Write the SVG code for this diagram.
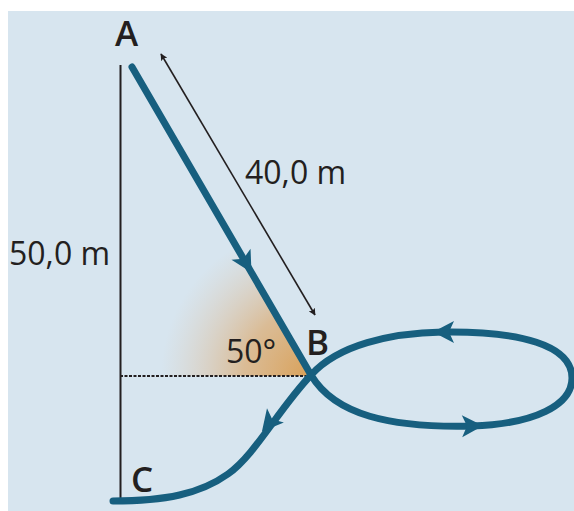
<svg xmlns="http://www.w3.org/2000/svg" xmlns:xlink="http://www.w3.org/1999/xlink" width="574" height="511" viewBox="0 0 574 511">
<style>
.lbl{font-family:"Open Sans","Liberation Sans",sans-serif;fill:#231f20;}
.pt{font-size:35px;font-weight:600;}
.dim{font-size:32px;}
.path{fill:none;stroke:#175f7f;stroke-width:7;stroke-linecap:round;}
.ah{fill:#175f7f;}
</style>
<defs>
<radialGradient id="wedge" gradientUnits="userSpaceOnUse" cx="311" cy="376" r="150">
<stop offset="0" stop-color="#d9a057" stop-opacity="1"/>
<stop offset="0.45" stop-color="#dbae78" stop-opacity="0.75"/>
<stop offset="1" stop-color="#dcc4ac" stop-opacity="0"/>
</radialGradient>
<path id="head" d="M11,0 L-10,-11 L-5,0 L-10,11 Z"/>
<marker id="bk" viewBox="0 0 10 10" refX="9" refY="5" markerWidth="7" markerHeight="7" orient="auto-start-reverse" markerUnits="userSpaceOnUse">
<path d="M0,0 L10,5 L0,10 L2,5 Z" fill="#231f20"/>
</marker>
</defs>
<rect x="8" y="11" width="566" height="500" fill="#d7e5ef"/>
<polygon points="311,376 160,376 160,225 224,225" fill="url(#wedge)"/>
<g id="connectors">
<line x1="120.5" y1="65" x2="120.5" y2="500" stroke="#231f20" stroke-width="2"/>
<line x1="120" y1="376" x2="306" y2="376" stroke="#231f20" stroke-width="2" stroke-dasharray="3,1.5"/>
<line x1="161" y1="54" x2="315" y2="315" stroke="#231f20" stroke-width="1.6" marker-start="url(#bk)" marker-end="url(#bk)"/>
<path class="path" d="M132,67 L311,375 C335,415 390,428 472,426 C535,424 572,405 572,378 C572,345 520,331 443,332 C390,333 338,345 311,375 C278,410 255,455 228,474 C200,494 165,501 113,501"/>
<use href="#head" class="ah" transform="translate(246,263) rotate(60)"/>
<use href="#head" class="ah" transform="translate(444,332) rotate(180)"/>
<use href="#head" class="ah" transform="translate(472,426) rotate(-1)"/>
<use href="#head" class="ah" transform="translate(269,423) rotate(130)"/>
</g>
<g id="A"><text class="lbl pt" x="115" y="46">A</text></g>
<g id="B"><text class="lbl pt" x="306" y="355">B</text></g>
<g id="C"><text class="lbl pt" x="131" y="492">C</text></g>
<g id="angle"><text class="lbl dim" x="226" y="363">50°</text></g>
<g id="len40"><text class="lbl dim" x="245" y="184">40,0 m</text></g>
<g id="len50"><text class="lbl dim" x="9" y="265">50,0 m</text></g>
</svg>
